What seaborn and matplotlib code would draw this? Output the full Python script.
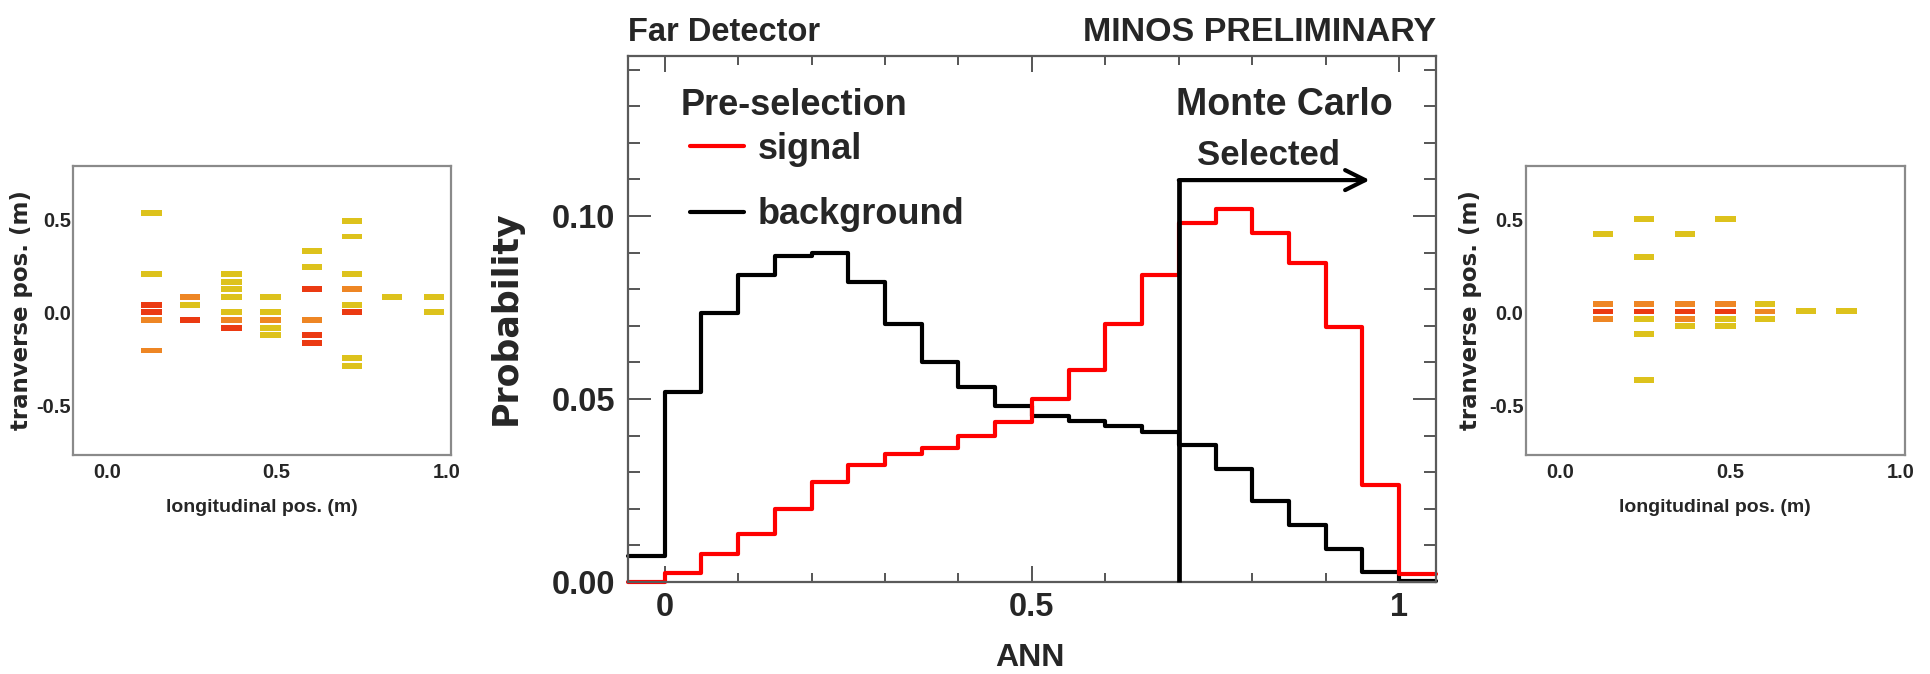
import numpy as np
import pandas as pd
import seaborn as sns
import matplotlib
matplotlib.use("Agg")
import matplotlib.pyplot as plt
from matplotlib.path import Path
from matplotlib.ticker import MultipleLocator

# ---------------- data ----------------
ann_edges = [-0.05, 0.0, 0.05, 0.10, 0.15, 0.20, 0.25, 0.30, 0.35, 0.40, 0.45, 0.50,
             0.55, 0.60, 0.65, 0.70, 0.75, 0.80, 0.85, 0.90, 0.95, 1.00, 1.05]
signal_prob = [0.0, 0.0024, 0.0076, 0.013, 0.020, 0.0272, 0.032, 0.0351, 0.0365, 0.0398, 0.0438,
               0.050, 0.0578, 0.0705, 0.0839, 0.098, 0.102, 0.0953, 0.0871, 0.0698, 0.0265, 0.0023]
background_prob = [0.0071, 0.052, 0.0735, 0.084, 0.089, 0.090, 0.082, 0.0705, 0.060, 0.0532, 0.048,
                   0.0453, 0.0441, 0.0427, 0.041, 0.0374, 0.0308, 0.022, 0.0155, 0.009, 0.0026, 0.0004]
series_labels = ["signal", "background"]
cut_value = 0.70
arrow_end = 0.96
arrow_level = 0.1098

ann_ticks = [0.0, 0.5, 1.0]
ann_ticklabels = ["0", "0.5", "1"]
prob_ticks = [0.0, 0.05, 0.10]
prob_ticklabels = ["0.00", "0.05", "0.10"]

side_x_ticks = [0.0, 0.5, 1.0]
side_x_ticklabels = ["0.0", "0.5", "1.0"]
side_y_ticks = [-0.5, 0.0, 0.5]
side_y_ticklabels = ["-0.5", "0.0", "0.5"]

left_long = [0.131, 0.131, 0.131, 0.131, 0.131, 0.131,
             0.244, 0.244, 0.244,
             0.367, 0.367, 0.367, 0.367, 0.367, 0.367, 0.367,
             0.482, 0.482, 0.482, 0.482, 0.482,
             0.605, 0.605, 0.605, 0.605, 0.605, 0.605,
             0.723, 0.723, 0.723, 0.723, 0.723, 0.723, 0.723, 0.723,
             0.840,
             0.963, 0.963]
left_trans = [0.537, 0.205, 0.041, 0.0, -0.041, -0.205,
              0.082, 0.041, -0.041,
              0.206, 0.165, 0.124, 0.082, 0.0, -0.041, -0.082,
              0.082, 0.0, -0.041, -0.082, -0.124,
              0.332, 0.246, 0.124, -0.041, -0.124, -0.165,
              0.494, 0.408, 0.205, 0.124, 0.041, 0.0, -0.247, -0.289,
              0.082,
              0.082, 0.0]
left_level = ["low", "low", "high", "high", "mid", "mid",
              "mid", "low", "high",
              "low", "low", "low", "low", "low", "mid", "high",
              "low", "low", "mid", "low", "low",
              "low", "low", "high", "mid", "high", "high",
              "low", "low", "low", "mid", "low", "high", "low", "low",
              "low",
              "low", "low"]

right_long = [0.127, 0.127, 0.127, 0.127,
              0.247, 0.247, 0.247, 0.247, 0.247, 0.247, 0.247,
              0.367, 0.367, 0.367, 0.367, 0.367,
              0.486, 0.486, 0.486, 0.486, 0.486,
              0.602, 0.602, 0.602,
              0.722,
              0.841]
right_trans = [0.42, 0.045, 0.005, -0.035,
               0.503, 0.296, 0.045, 0.005, -0.035, -0.117, -0.364,
               0.42, 0.045, 0.005, -0.035, -0.075,
               0.503, 0.045, 0.005, -0.035, -0.075,
               0.045, 0.005, -0.035,
               0.007,
               0.007]
right_level = ["low", "mid", "high", "mid",
               "low", "low", "mid", "high", "low", "low", "low",
               "low", "mid", "high", "mid", "low",
               "low", "mid", "high", "low", "low",
               "low", "mid", "low",
               "low",
               "low"]

hit_palette = {"low": "#ddc21c", "mid": "#ee8624", "high": "#eb3a12"}

# ---------------- style ----------------
sns.set_theme(style="white")
plt.rcParams["font.family"] = ["Liberation Sans", "DejaVu Sans"]
plt.rcParams["font.weight"] = "bold"
plt.rcParams["axes.labelweight"] = "bold"
wide = ["DejaVu Sans"]

fig = plt.figure(figsize=(19.31, 6.74), dpi=100)
fig.patch.set_facecolor("white")
ax_l = fig.add_axes([0.0378, 0.3249, 0.1956, 0.4288])
ax_c = fig.add_axes([0.3252, 0.1365, 0.4184, 0.7804])
ax_r = fig.add_axes([0.7901, 0.3249, 0.1964, 0.4288])

# ---------------- center panel ----------------
edges_arr = np.array(ann_edges)
hist_df = pd.DataFrame({
    "ann": (edges_arr[:-1] + edges_arr[1:]) / 2,
    "signal": signal_prob,
    "background": background_prob,
})
sns.histplot(data=hist_df, x="ann", weights="background", bins=list(ann_edges), element="step",
             fill=False, color="black", linewidth=3, ax=ax_c)
sns.histplot(data=hist_df, x="ann", weights="signal", bins=list(ann_edges), element="step",
             fill=False, color="#ff0000", linewidth=3, ax=ax_c)
bg_line, sig_line = ax_c.lines[0], ax_c.lines[1]
for ln in ax_c.lines:
    ln.set_clip_on(False)

ax_c.vlines(cut_value, 0, arrow_level, colors="black", linewidth=3.4, zorder=5, clip_on=False)
ax_c.annotate("", xy=(arrow_end, arrow_level), xytext=(cut_value, arrow_level),
              arrowprops=dict(arrowstyle="->,head_length=0.72,head_width=0.36", lw=3,
                              color="black", mutation_scale=20, shrinkA=0, shrinkB=0))

ax_c.set_xlim(-0.05, 1.05)
ax_c.set_ylim(0, 0.1437)
ax_c.set_xticks(ann_ticks, labels=ann_ticklabels)
ax_c.set_yticks(prob_ticks, labels=prob_ticklabels)
ax_c.xaxis.set_minor_locator(MultipleLocator(0.1))
ax_c.yaxis.set_minor_locator(MultipleLocator(0.01))
ax_c.tick_params(axis="x", which="major", direction="in", length=11.5, width=1.4, color="#555555",
                 top=True, bottom=True, labelsize=23.5, pad=7)
ax_c.tick_params(axis="x", which="minor", direction="in", length=6.5, width=1.4, color="#555555",
                 top=True, bottom=True)
ax_c.tick_params(axis="y", which="major", direction="in", length=16.5, width=1.4, color="#555555",
                 left=True, right=True, labelsize=23.5, pad=9)
ax_c.tick_params(axis="y", which="minor", direction="in", length=8.6, width=1.4, color="#555555",
                 left=True, right=True)
for sp in ax_c.spines.values():
    sp.set_color("#5a5a5a")
    sp.set_linewidth(1.6)

ax_c.set_xlabel("ANN", fontsize=23, fontweight="bold")
ax_c.xaxis.set_label_coords(0.497, -0.1445)
ax_c.xaxis.label.set_verticalalignment("center")
ax_c.set_ylabel("Probability", fontsize=25, fontweight="bold", fontfamily=wide)
ax_c.yaxis.set_label_coords(-0.151, 0.502)
ax_c.yaxis.label.set_verticalalignment("center")

ax_c.text(0, 1.0285, "Far Detector", transform=ax_c.transAxes, ha="left", va="baseline",
          fontsize=23.5, fontweight="bold")
ax_c.text(1, 1.0285, "MINOS PRELIMINARY", transform=ax_c.transAxes, ha="right", va="baseline",
          fontsize=24.5, fontweight="bold")
ax_c.text(0.022, 0.1276, "Pre-selection", ha="left", va="baseline", fontsize=26, fontweight="bold")
ax_c.text(0.844, 0.1276, "Monte Carlo", ha="center", va="baseline", fontsize=27, fontweight="bold")
ax_c.text(0.822, 0.1139, "Selected", ha="center", va="baseline", fontsize=25, fontweight="bold")

ax_c.legend(handles=[sig_line, bg_line], labels=series_labels, loc="upper left",
            bbox_to_anchor=(0.0767, 0.8555), frameon=False,
            prop={"size": 26, "weight": "bold"}, handlelength=1.5, handletextpad=0.385,
            labelspacing=0.84, borderpad=0, borderaxespad=0)

# ---------------- side panels ----------------
rect = Path([(-1, -0.285), (1, -0.285), (1, 0.285), (-1, 0.285), (-1, -0.285)],
            [Path.MOVETO, Path.LINETO, Path.LINETO, Path.LINETO, Path.CLOSEPOLY])


def side_panel(ax, longi, trans, level, ylab_x):
    df = pd.DataFrame({"long": longi, "trans": trans, "level": level})
    sns.scatterplot(data=df, x="long", y="trans", hue="level", palette=hit_palette,
                    marker=rect, s=215, linewidth=0, edgecolor="none", legend=False, ax=ax)
    ax.set_xlim(-0.1, 1.013)
    ax.set_ylim(-0.768, 0.788)
    ax.set_xticks(side_x_ticks, labels=side_x_ticklabels, fontsize=14.5, fontweight="bold")
    ax.set_yticks(side_y_ticks, labels=side_y_ticklabels, fontsize=14.5, fontweight="bold")
    ax.xaxis.set_minor_locator(MultipleLocator(0.1))
    ax.yaxis.set_minor_locator(MultipleLocator(0.1))
    ax.tick_params(axis="both", which="major", direction="in", length=6, width=1.1,
                   color="#808080")
    ax.tick_params(axis="both", which="minor", direction="in", length=4, width=1.1,
                   color="#808080")
    ax.tick_params(axis="x", which="major", pad=6)
    ax.tick_params(axis="y", which="major", pad=1.5)
    for sp in ax.spines.values():
        sp.set_color("#8a8a8a")
        sp.set_linewidth(1.6)
    ax.set_xlabel("longitudinal pos. (m)", fontsize=14, fontweight="bold")
    ax.xaxis.set_label_coords(0.5, -0.183)
    ax.xaxis.label.set_verticalalignment("center")
    ax.set_ylabel("tranverse pos. (m)", fontsize=16.5, fontweight="bold", fontfamily=wide)
    ax.yaxis.set_label_coords(ylab_x, 0.5)
    ax.yaxis.label.set_verticalalignment("center")


side_panel(ax_l, left_long, left_trans, left_level, -0.137)
side_panel(ax_r, right_long, right_trans, right_level, -0.146)

fig.savefig("out.png", dpi=100, facecolor="white")
